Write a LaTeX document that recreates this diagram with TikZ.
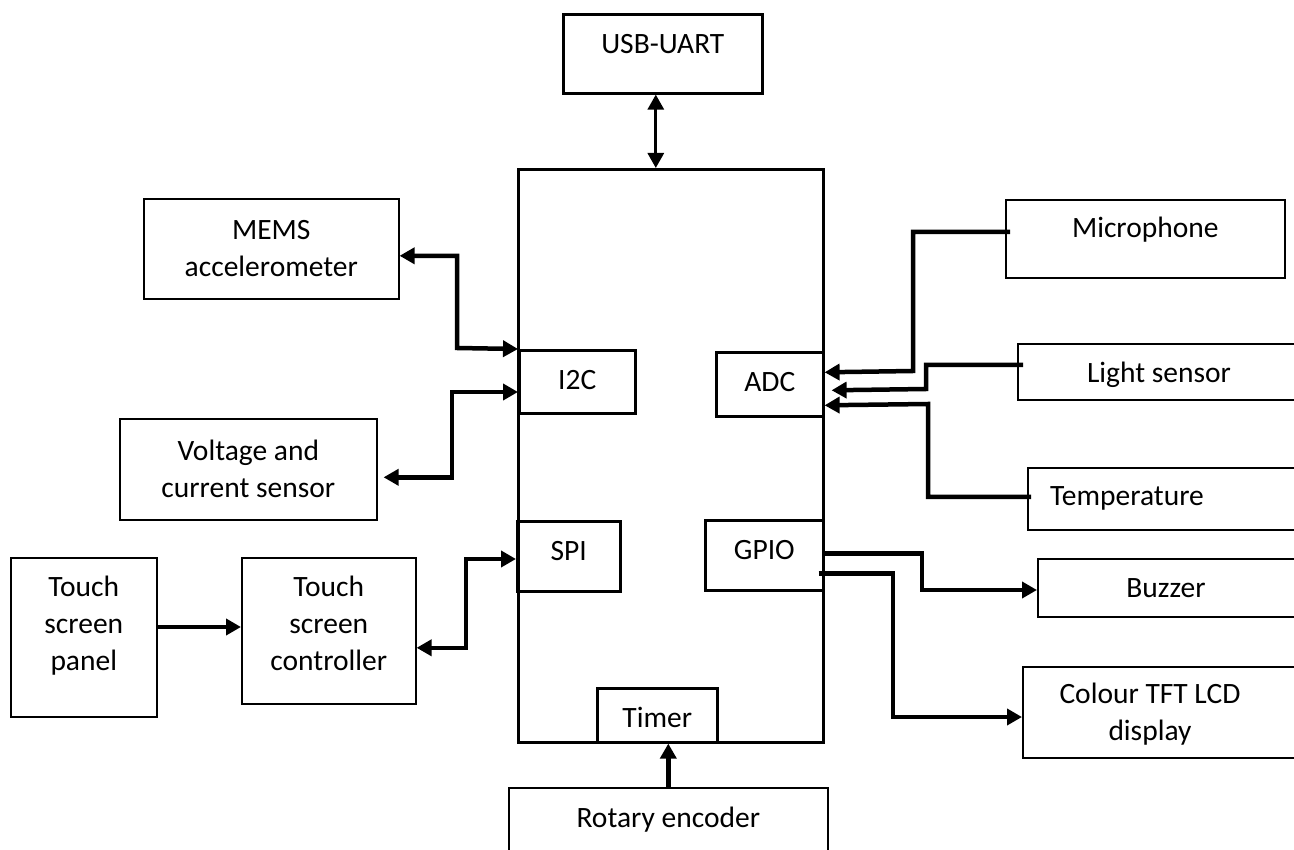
\documentclass[tikz,border=0pt]{standalone}
\usepackage{fontspec}
\setmainfont{Carlito}
\usetikzlibrary{calc, arrows.meta}
\tikzset{>={Triangle[length=15pt, width=16pt]},
  blk/.style={draw, line width=1.6pt, inner sep=0pt, anchor=north west, align=center},
  inblk/.style={blk, line width=2.6pt},
  one/.style={text height=39pt},
  lnk/.style={line width=4.5pt},
  lbl/.style={inner sep=0pt}
}

\begin{document}
\begin{tikzpicture}[x=1pt, y=-1pt, font=\fontsize{29.5}{37}\selectfont]
\useasboundingbox (0,0) rectangle (1294,850);
% controller and its blocks
\node[inblk, minimum width=305pt, minimum height=573pt] (mcu) at (517,168) {};
\node[inblk, one, minimum width=199pt, text depth=40pt] (usb) at (562,13) {USB-UART};
\node[inblk, one, minimum width=116pt, text depth=24pt] (i2c) at (518,349) {I2C};
\node[inblk, one, minimum width=107pt, text depth=25pt] (adc) at (715,351) {ADC};
\node[inblk, one, minimum width=103pt, text depth=31pt] (spi) at (516,520) {SPI};
\node[inblk, one, minimum width=118pt, text depth=31pt] (gpio) at (704,519) {GPIO};
\node[inblk, one, minimum width=120pt, text depth=15pt] (timer) at (596,687) {Timer};
\node[blk, one, text height=40pt, minimum width=319pt, text depth=45pt] (rot) at (508,787) {Rotary encoder};

% left side
\node[blk, minimum width=255pt, minimum height=100pt] (mems) at (143,198) {MEMS\\accelerometer};
\node[blk, minimum width=257pt, minimum height=101pt] (volt) at (119,418) {Voltage and\\current sensor};
\node[blk, text height=113pt, minimum width=146pt, text depth=46pt] (panel) at (10,557) {Touch\\screen\\panel};
\node[blk, text height=113pt, minimum width=174pt, text depth=33pt] (ctrl) at (241,557) {Touch\\screen\\controller};

% right side
\node[blk, one, text height=38pt, minimum width=279pt, text depth=40pt] (mic) at (1005,199) {Microphone};
\node[blk, minimum width=300pt, minimum height=56pt] (light) at (1017,343) {};
\node[lbl, anchor=base] (light-t) at (1159,383) {Light sensor};
\node[blk, minimum width=300pt, minimum height=62pt] (temp) at (1027,467) {};
\node[lbl, anchor=base west] (temp-t) at (1050,505) {Temperature};
\node[blk, minimum width=300pt, minimum height=58pt] (buzz) at (1037,558) {};
\node[lbl, anchor=base] (buzz-t) at (1166,597) {Buzzer};
\node[blk, minimum width=300pt, minimum height=91pt] (tft) at (1022,666) {};
\node[lbl, align=center] (tft-t) at (1150,714) {Colour TFT LCD\\display};

% links
\draw[lnk, line width=3pt, <->] ([xshift=-7pt]usb.south) -- ([xshift=-7pt]usb.south |- mcu.north);
\draw[lnk, <->] ([yshift=-7pt]mems.east) -| (457,348) -- (i2c.north west);
\draw[lnk, <->] ([xshift=6pt, yshift=-8pt]volt.east) -| (452,392) -- (i2c.west |- 0,392);
\draw[lnk, ->] (panel.east |- 0,627) -- (ctrl.west |- 0,627);
\draw[lnk, <->] ([yshift=-17pt]ctrl.east) -| (466,559) -- (spi.west |- 0,559);
\draw[lnk, ->] ([xshift=5pt, yshift=7pt]mic.west) -| (913,371) -- ([yshift=12pt]adc.east);
\draw[lnk, ->] ([xshift=6pt, yshift=7pt]light.west) -| (926,389) -- ([xshift=7pt, yshift=-6pt]adc.east);
\draw[lnk, ->] ([xshift=4pt, yshift=2pt]temp.west) -| (928,404) -- ([yshift=-21pt]adc.east);
\draw[lnk, ->] ([yshift=2pt]gpio.east) -| (922,590) -- (buzz.west |- 0,590);
\draw[lnk, ->] ([xshift=-6pt, yshift=-18pt]gpio.east) -| (893,717) -- (tft.west |- 0,717);
\draw[lnk, ->] (rot.north) -- (rot.north |- timer.south);
\end{tikzpicture}
\end{document}
